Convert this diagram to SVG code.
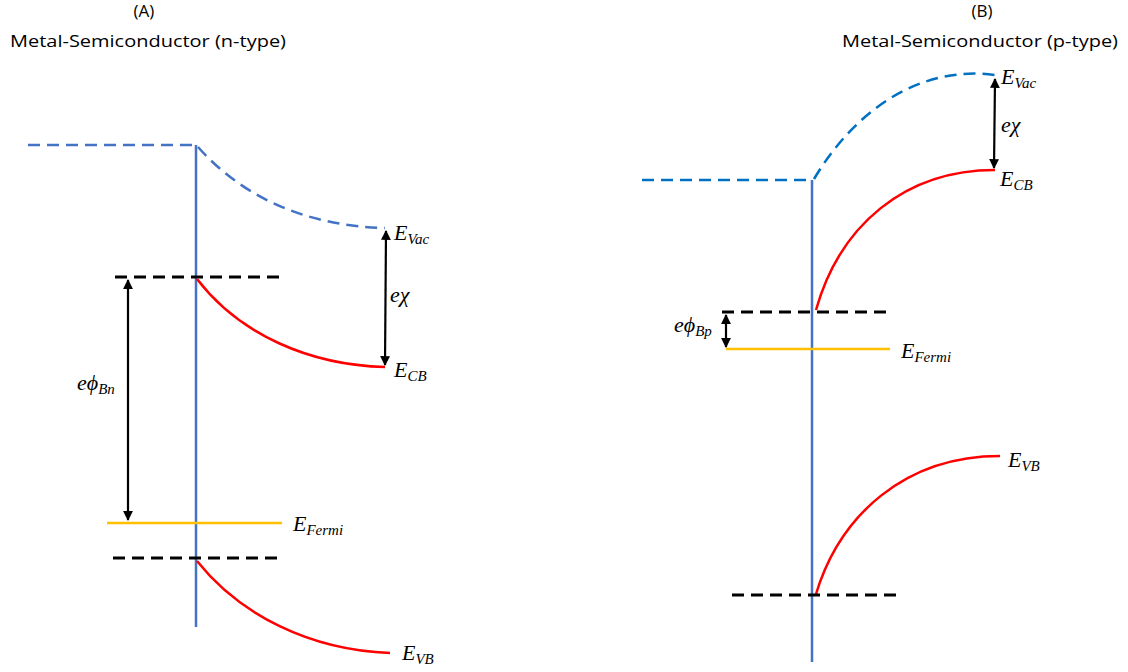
<svg xmlns="http://www.w3.org/2000/svg" width="1128" height="672" viewBox="0 0 1128 672">
<style>
.title{font-family:"Open Sans","Liberation Sans",sans-serif;font-size:17px;fill:#000;text-anchor:middle}
.m{font-family:"Liberation Serif","DejaVu Serif",serif;font-style:italic;font-size:22px;fill:#000}
.s{font-size:15px}
.vac{fill:none;stroke:#4472C4;stroke-width:2.5;stroke-dasharray:12,7}
.vac2{fill:none;stroke:#0070C0;stroke-width:2.5;stroke-dasharray:12,7}
.iface{stroke:#4472C4;stroke-width:2.5}
.band{fill:none;stroke:#FF0000;stroke-width:2.5}
.blk{stroke:#000;stroke-width:2.8;stroke-dasharray:12,7}
.fermi{stroke:#FFC000;stroke-width:2.5}
.arr{stroke:#000;stroke-width:2.2;marker-start:url(#ah);marker-end:url(#ah)}
</style>
<defs>
<marker id="ah" viewBox="0 0 10 10" refX="9" refY="5" markerWidth="4.5" markerHeight="4.5" orient="auto-start-reverse" markerUnits="strokeWidth">
<path d="M0,0 L10,5 L0,10 z" fill="#000"/>
</marker>
</defs>
<rect width="1128" height="672" fill="#fff"/>
<g id="titleA">
<text class="title" x="144" y="17">(A)</text>
<text class="title" x="148" y="47" textLength="276" lengthAdjust="spacingAndGlyphs">Metal-Semiconductor (n-type)</text>
</g>
<g id="titleB">
<text class="title" x="982" y="17">(B)</text>
<text class="title" x="980" y="47" textLength="276" lengthAdjust="spacingAndGlyphs">Metal-Semiconductor (p-type)</text>
</g>
<g id="panelA">
<line class="iface" x1="196" y1="145" x2="196" y2="627"/>
<line class="vac" x1="28" y1="145" x2="196" y2="145"/>
<path class="vac" d="M198,147 C245,200 310,226 385,228"/>
<line class="blk" x1="115" y1="277" x2="285" y2="277"/>
<path class="band" d="M197,279 C240,335 310,365 385,367"/>
<line class="fermi" x1="107" y1="523" x2="282" y2="523"/>
<line class="blk" x1="113" y1="558" x2="283" y2="558"/>
<path class="band" d="M197,561 C240,615 310,650 390,653"/>
</g>
<g id="panelB">
<line class="iface" x1="812" y1="180" x2="812" y2="662"/>
<line class="vac2" x1="642" y1="180" x2="812" y2="180"/>
<path class="vac2" d="M814,179 C855,110 920,65 995,75"/>
<path class="band" d="M816,310 C840,225 905,170 995,170"/>
<line class="blk" x1="722" y1="312" x2="890" y2="312"/>
<line class="fermi" x1="726" y1="349" x2="890" y2="349"/>
<path class="band" d="M816,594 C840,515 905,456 1000,456"/>
<line class="blk" x1="732" y1="595" x2="902" y2="595"/>
</g>
<g id="connectors">
<line class="arr" x1="386" y1="231" x2="385" y2="365"/>
<line class="arr" x1="128" y1="280" x2="128" y2="520"/>
<line class="arr" x1="995" y1="79" x2="994" y2="168"/>
<line class="arr" x1="726" y1="315" x2="726" y2="347"/>
</g>
<g id="labels">
<text class="m" x="394" y="240">E<tspan class="s" dy="4">Vac</tspan></text>
<text class="m" x="390" y="302">eχ</text>
<text class="m" x="394" y="377">E<tspan class="s" dy="4">CB</tspan></text>
<text class="m" x="77" y="390">eϕ<tspan class="s" dy="4">Bn</tspan></text>
<text class="m" x="293" y="531">E<tspan class="s" dy="4">Fermi</tspan></text>
<text class="m" x="402" y="660">E<tspan class="s" dy="4">VB</tspan></text>
<text class="m" x="1001" y="84">E<tspan class="s" dy="4">Vac</tspan></text>
<text class="m" x="1001" y="132">eχ</text>
<text class="m" x="1000" y="186">E<tspan class="s" dy="4">CB</tspan></text>
<text class="m" x="674" y="332">eϕ<tspan class="s" dy="4">Bp</tspan></text>
<text class="m" x="901" y="358">E<tspan class="s" dy="4">Fermi</tspan></text>
<text class="m" x="1008" y="467">E<tspan class="s" dy="4">VB</tspan></text>
</g>
</svg>
